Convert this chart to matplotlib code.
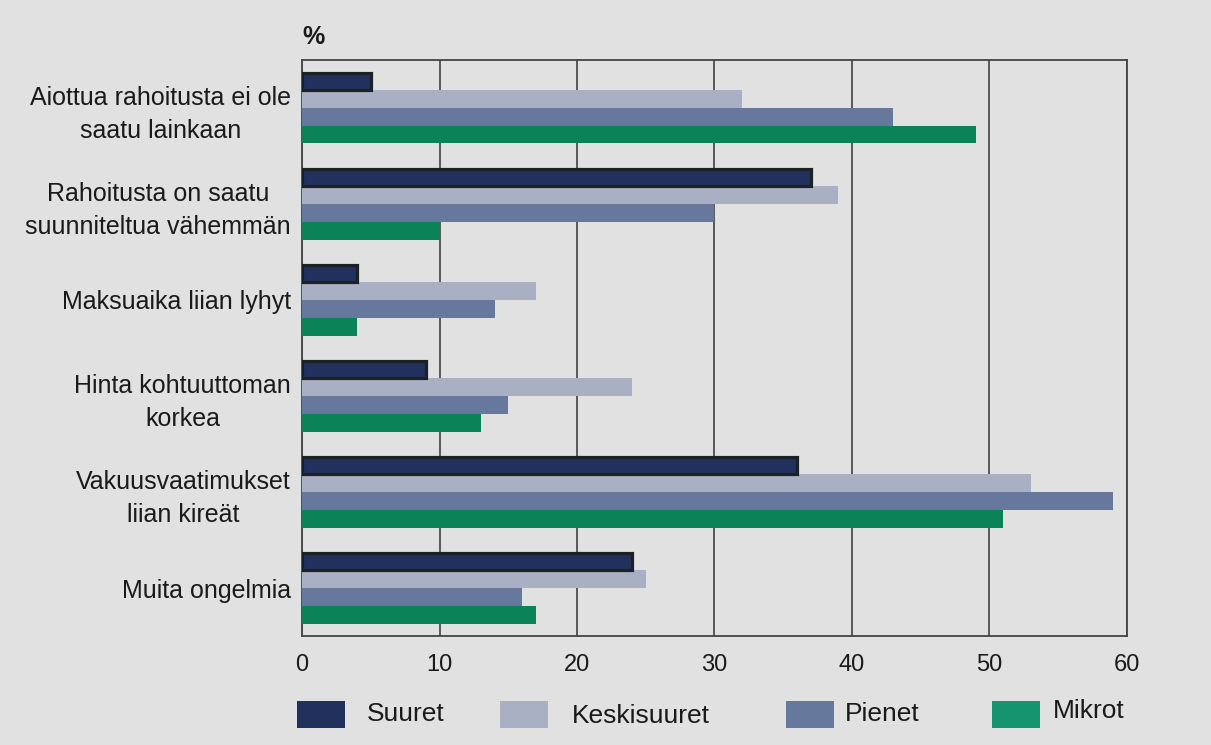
import numpy as np
import matplotlib
matplotlib.use("Agg")
import matplotlib.pyplot as plt
from matplotlib.patches import Rectangle

# kategoriat ja sarjat
categories = [
    "Aiottua rahoitusta ei ole\nsaatu lainkaan",
    "Rahoitusta on saatu\nsuunniteltua vähemmän",
    "Maksuaika liian lyhyt",
    "Hinta kohtuuttoman\nkorkea",
    "Vakuusvaatimukset\nliian kireät",
    "Muita ongelmia",
]
series_names = ["Suuret", "Keskisuuret", "Pienet", "Mikrot"]
suuret = [5, 37, 4, 9, 36, 24]
keskisuuret = [32, 39, 17, 24, 53, 25]
pienet = [43, 30, 14, 15, 59, 16]
mikrot = [49, 10, 4, 13, 51, 17]
x_ticks = [0, 10, 20, 30, 40, 50, 60]

colors = ["#22305e", "#aab0c4", "#66799c", "#0c8258"]
legend_colors = ["#22305e", "#aab0c4", "#66799c", "#169470"]
bg = "#e1e1e1"
txt = "#1a1a1a"

plt.rcParams['font.family'] = ['Liberation Sans', 'DejaVu Sans']

fig = plt.figure(figsize=(12.11, 7.45), dpi=100, facecolor=bg)
ax = fig.add_axes([0.2494, 0.1463, 0.6812, 0.7732], facecolor=bg)

y = np.arange(len(categories))
h = 0.185
values = [suuret, keskisuuret, pienet, mikrot]
for i, vals in enumerate(values):
    pos = y - 1.5 * h + i * h
    if i == 0:
        ax.barh(pos, vals, height=h * 0.92, color=colors[i], edgecolor="#1a2226",
                linewidth=2.3, zorder=4)
    else:
        ax.barh(pos, vals, height=h, color=colors[i], edgecolor="none", zorder=3)

ax.set_ylim(len(categories) - 0.5, -0.5)
ax.set_xlim(0, 60)
ax.set_xticks(x_ticks)
ax.set_xticklabels([str(t) for t in x_ticks], fontsize=17, color=txt)
ax.set_yticks(y)
ax.set_yticklabels(categories, fontsize=18, color=txt, multialignment="center",
                   linespacing=1.45)
ax.tick_params(length=0)
ax.tick_params(axis="x", pad=13)
ax.tick_params(axis="y", pad=8)
ax.xaxis.grid(True, color="#333333", linewidth=1.1, zorder=1)
ax.set_axisbelow(True)
for s in ax.spines.values():
    s.set_color("#444444")
    s.set_linewidth(1.3)

fig.text(0.250, 0.951, "%", fontsize=18, ha="left", va="center", color=txt,
         fontweight="semibold")

# selite käsin
patch_x = [297, 500, 786, 992]
text_x = [367, 572, 845, 1053]
text_y = [714, 716, 714, 711]
W, H = 1211, 745
for px, tx, ty, name, c in zip(patch_x, text_x, text_y, series_names, legend_colors):
    fig.add_artist(Rectangle((px / W, 1 - 728 / H), 48 / W, 27 / H,
                             transform=fig.transFigure, facecolor=c,
                             edgecolor="none"))
    fig.text(tx / W, 1 - ty / H, name, fontsize=19, ha="left", va="center",
             color=txt)

fig.savefig("out.png", dpi=100, facecolor=bg)
